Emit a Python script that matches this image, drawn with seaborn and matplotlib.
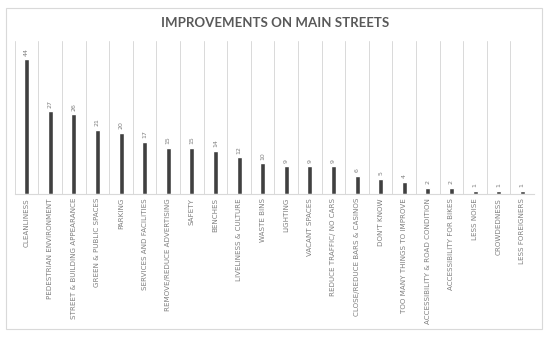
import numpy as np
import pandas as pd
import matplotlib
matplotlib.use('Agg')
import matplotlib.pyplot as plt
from matplotlib.patches import Rectangle
import seaborn as sns

categories = ['CLEANLINESS', 'PEDESTRIAN ENVIRONMENT', 'STREET & BUILDING APPEARANCE',
              'GREEN & PUBLIC SPACES', 'PARKING', 'SERVICES AND FACILITIES',
              'REMOVE/REDUCE ADVERTISING', 'SAFETY', 'BENCHES', 'LIVELINESS & CULTURE',
              'WASTE BINS', 'LIGHTING', 'VACANT SPACES', 'REDUCE TRAFFIC/ NO CARS',
              'CLOSE/REDUCE BARS & CASINOS', "DON'T KNOW", 'TOO MANY THINGS TO IMPROVE',
              'ACCESSIBILITY & ROAD CONDITION', 'ACCESSIBILITY FOR BIKES', 'LESS NOISE',
              'CROWDEDNESS', 'LESS FOREIGNERS']
counts = [44, 27, 26, 21, 20, 17, 15, 15, 14, 12, 10, 9, 9, 9, 6, 5, 4, 2, 2, 1, 1, 1]

df = pd.DataFrame({'category': categories, 'count': counts})

sns.set_style('white')
plt.rcParams['font.family'] = ['DejaVu Sans']

fig = plt.figure(figsize=(5.5, 3.39), dpi=100)
ax = fig.add_axes([0.027, 0.428, 0.944, 0.451])

sns.barplot(data=df, x='category', y='count', color='#404040', width=0.21,
            saturation=1, ax=ax)

n = len(categories)
ax.set_xlim(-0.5, n - 0.5)
ax.set_ylim(0, 50)
ax.set_yticks([])
ax.set_xlabel('')
ax.set_ylabel('')
ax.set_xticks(np.arange(n))
ax.set_xticklabels(categories, rotation=90, fontsize=5.1, color='#7f7f7f', va='top')
ax.tick_params(axis='x', length=0, pad=3)
ax.set_xticks(np.arange(n + 1) - 0.5, minor=True)
ax.grid(True, which='minor', axis='x', color='#d9d9d9', linewidth=0.7)
ax.tick_params(which='minor', length=0)
for s in ['top', 'left', 'right']:
    ax.spines[s].set_visible(False)
ax.spines['bottom'].set_color('#d9d9d9')
ax.spines['bottom'].set_linewidth(0.8)

for i, v in enumerate(counts):
    ax.text(i, v + 1.2, str(v), rotation=90, ha='center', va='bottom',
            fontsize=4.5, color='#7f7f7f')

fig.text(0.5, 0.932, 'IMPROVEMENTS ON MAIN STREETS', ha='center', va='center',
         fontsize=9.5, fontweight='bold', color='#595959', family=['Lato', 'DejaVu Sans'])

fig.patches.append(Rectangle((0.011, 0.0295), 0.975, 0.947, transform=fig.transFigure,
                             fill=False, edgecolor='#d9d9d9', linewidth=0.8))

fig.savefig('out.png', dpi=100)
